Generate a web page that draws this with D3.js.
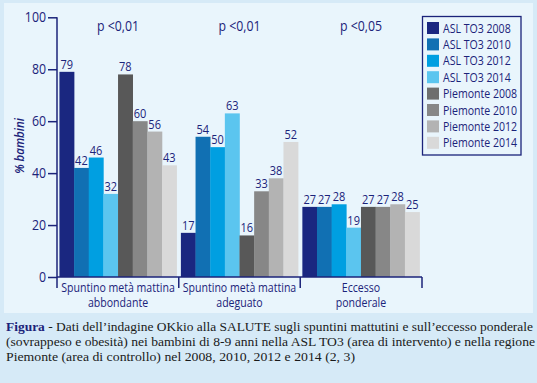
<!DOCTYPE html>
<html><head><meta charset="utf-8">
<script src="https://cdn.jsdelivr.net/npm/d3@7/dist/d3.min.js"></script>
<style>
html,body{margin:0;padding:0;background:#d6eaf7;}
svg{display:block;}
</style></head>
<body>
<svg id="c" width="537" height="383"></svg>
<script>
const categories = [["Spuntino metà mattina","abbondante"],["Spuntino metà mattina","adeguato"],["Eccesso","ponderale"]];
const seriesNames = ["ASL TO3 2008","ASL TO3 2010","ASL TO3 2012","ASL TO3 2014","Piemonte 2008","Piemonte 2010","Piemonte 2012","Piemonte 2014"];
const values = [
  [79,42,46,32,78,60,56,43],
  [17,54,50,63,16,33,38,52],
  [27,27,28,19,27,27,28,25]
];
const pValues = ["p <0,01","p <0,01","p <0,05"];
const yTicks = [0,20,40,60,80,100];
const colors = ["#1a2780","#1170b3","#009fe1","#5bc5ef","#585858","#878787","#b3b3b3","#d9d9d9"];
const legendColors = ["#1a2780","#1170b3","#009fe1","#5bc5ef","#6e6e6e","#878787","#b3b3b3","#d9d9d9"];
const captionLines = [
  ["Figura", " - Dati dell’indagine OKkio alla SALUTE sugli spuntini mattutini e sull’eccesso ponderale"],
  ["", "(sovrappeso e obesità) nei bambini di 8-9 anni nella ASL TO3 (area di intervento) e nella regione"],
  ["", "Piemonte (area di controllo) nel 2008, 2010, 2012 e 2014 (2, 3)"]
];
const captionWidths = [527, 529, 349];

const navy = "#1b237a";
const svg = d3.select("#c");
svg.append("rect").attr("x",0).attr("y",0).attr("width",537).attr("height",383).attr("fill","#d6eaf7");
svg.append("rect").attr("x",4).attr("y",3).attr("width",529).attr("height",310).attr("fill","#e9f5fc");

const font = "'Open Sans', 'Noto Sans', sans-serif";
const y = d3.scaleLinear().domain([0,100]).range([277,17.3]);
const x0 = d3.scaleBand().domain(d3.range(categories.length)).range([57,422]).paddingInner(0.035).paddingOuter(0.02);
const x1 = d3.scaleBand().domain(d3.range(seriesNames.length)).range([0,x0.bandwidth()]);

// bars
const g = svg.append("g");
values.forEach((row,ci)=>{
  const gg = g.append("g").attr("transform",`translate(${x0(ci)},0)`);
  gg.selectAll("rect").data(row).join("rect")
    .attr("x",(d,i)=>x1(i)).attr("width",x1.bandwidth()+0.3)
    .attr("y",d=>y(d)).attr("height",d=>y(0)-y(d))
    .attr("fill",(d,i)=>colors[i]);
  gg.selectAll("text").data(row).join("text").attr("class","ss")
    .attr("x",(d,i)=>x1(i)+x1.bandwidth()/2).attr("y",d=>y(d)-3)
    .attr("text-anchor","middle").attr("font-family",font).attr("font-size",12.5)
    .attr("fill",navy).text(d=>d);
});

// y axis
const yAxis = d3.axisLeft(y).tickValues(yTicks).tickSize(9).tickPadding(2);
const ya = svg.append("g").attr("transform","translate(57,0)").call(yAxis);
ya.select(".domain").attr("stroke",navy).attr("stroke-width",1.5).attr("d","M0,277V17.3");
ya.selectAll(".tick line").attr("stroke",navy).attr("stroke-width",1.5);
ya.selectAll(".tick text").attr("class","ss").attr("font-family",font).attr("font-size",14).attr("fill",navy);

// x axis
const xa = svg.append("g");
xa.append("line").attr("x1",57).attr("x2",422).attr("y1",277).attr("y2",277).attr("stroke",navy).attr("stroke-width",1.5);
const seps = [57].concat(d3.range(categories.length).map(i=>x0(i)+x0.bandwidth()+x0.step()*x0.paddingInner()/2));
seps[seps.length-1] = 422;
xa.selectAll("line.sep").data(seps).join("line").attr("class","sep")
  .attr("x1",d=>d).attr("x2",d=>d).attr("y1",277).attr("y2",288).attr("stroke",navy).attr("stroke-width",1.5);
categories.forEach((lines,ci)=>{
  const cx = x0(ci)+x0.bandwidth()/2;
  lines.forEach((t,li)=>{
    xa.append("text").attr("class","ss").attr("x",cx).attr("y",291.5+li*15.5).attr("text-anchor","middle")
      .attr("font-family",font).attr("font-size",12).attr("fill",navy).text(t);
  });
  svg.append("text").attr("class","ss").attr("x",cx).attr("y",31).attr("text-anchor","middle")
    .attr("font-family",font).attr("font-size",14).attr("fill",navy).text(pValues[ci]);
});

// y label
svg.append("text").attr("class","ss").attr("transform","translate(24,146) rotate(-90)").attr("text-anchor","middle")
  .attr("font-family",font).attr("font-size",13).attr("font-style","italic").attr("font-weight","600").attr("fill",navy).text("% bambini");

// legend
const lg = svg.append("g");
lg.append("rect").attr("x",422.5).attr("y",16.5).attr("width",98.5).attr("height",138.5)
  .attr("fill","none").attr("stroke",navy).attr("stroke-width",1.3);
seriesNames.forEach((s,i)=>{
  lg.append("rect").attr("x",427).attr("y",22+i*16.4).attr("width",12).attr("height",12).attr("fill",legendColors[i]);
  lg.append("text").attr("class","ss").attr("x",443).attr("y",32.5+i*16.4).attr("font-family",font).attr("font-size",12)
    .attr("fill",navy).text(s);
});

// condense sans text to mimic the narrower original face
svg.selectAll("text.ss").each(function(){
  const w = this.getComputedTextLength();
  d3.select(this).attr("textLength", w*0.88).attr("lengthAdjust","spacingAndGlyphs");
});

// caption
captionLines.forEach((l,i)=>{
  const t = svg.append("text").attr("x",6).attr("y",331+i*15)
    .attr("font-family","'Liberation Serif', 'DejaVu Serif', serif").attr("font-size",13.5).attr("fill","#1a1a1a")
    .attr("textLength",captionWidths[i]).attr("lengthAdjust","spacingAndGlyphs");
  if(l[0]) t.append("tspan").attr("font-weight","bold").attr("fill",navy).text(l[0]);
  t.append("tspan").text(l[1]);
});
</script>
</body></html>
